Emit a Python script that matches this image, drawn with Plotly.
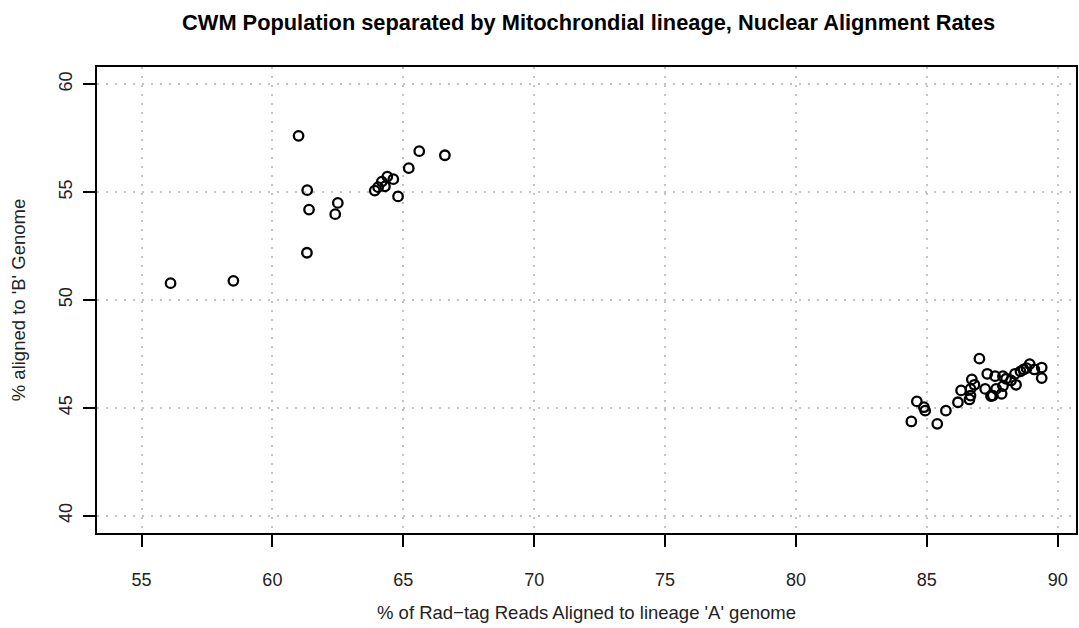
import plotly.graph_objects as go

# Lineage 'A' alignment (%) and lineage 'B' alignment (%) per sample
pct_a = [
    56.11, 58.51,
    61.00, 61.33, 61.40, 61.32, 62.50, 62.40, 63.91, 64.04, 64.18, 64.30,
    64.39, 64.62, 64.80, 65.21, 65.61, 66.59,
    87.01, 84.62, 84.89, 84.94, 84.41, 85.40, 85.73, 86.19, 86.31, 86.63,
    86.67, 86.72, 86.82, 86.67, 87.23, 87.31, 87.61, 87.91, 87.52, 87.65,
    87.86, 87.91, 88.22, 88.41, 88.37, 88.58, 88.70, 88.81, 88.93, 89.11,
    89.39, 89.39, 87.45, 88.03,
]
pct_b = [
    50.78, 50.89,
    57.61, 55.09, 54.19, 52.19, 54.50, 53.98, 55.07, 55.23, 55.49, 55.27,
    55.72, 55.60, 54.80, 56.11, 56.90, 56.71,
    47.28, 45.30, 45.03, 44.87, 44.37, 44.26, 44.87, 45.26, 45.81, 45.39,
    45.57, 46.32, 46.07, 45.88, 45.88, 46.58, 46.47, 46.47, 45.57, 45.88,
    45.65, 46.01, 46.27, 46.07, 46.58, 46.69, 46.78, 46.84, 47.03, 46.78,
    46.87, 46.38, 45.55, 46.35,
]

x_ticks = [55, 60, 65, 70, 75, 80, 85, 90]
y_ticks = [40, 45, 50, 55, 60]

FONT = "Liberation Sans, Arial, Helvetica, sans-serif"

fig = go.Figure(
    go.Scatter(
        x=pct_a,
        y=pct_b,
        mode="markers",
        marker=dict(
            symbol="circle-open",
            size=9.5,
            color="black",
            line=dict(width=2.3, color="black"),
        ),
        showlegend=False,
    )
)

axis_common = dict(
    showline=True,
    mirror=True,
    linecolor="black",
    linewidth=2,
    ticks="outside",
    ticklen=12,
    tickwidth=2,
    tickcolor="black",
    showgrid=True,
    gridcolor="#c4c4c4",
    griddash="2px,7px",
    gridwidth=2,
    zeroline=False,
    tickfont=dict(family=FONT, size=18, color="#222"),
)

fig.update_layout(
    width=1079,
    height=628,
    margin=dict(l=97, r=1, t=67, b=95),
    paper_bgcolor="white",
    plot_bgcolor="white",
    title=dict(
        text="<b>CWM Population separated by Mitochrondial lineage, Nuclear Alignment Rates</b>",
        x=0.5455,
        xanchor="center",
        y=0.965,
        yanchor="middle",
        font=dict(family=FONT, size=21.8, color="black"),
    ),
    xaxis=dict(
        **axis_common,
        range=[53.3, 90.7],
        tickvals=x_ticks,
        ticktext=[str(v) for v in x_ticks],
        ticklabelstandoff=17,
        title=dict(
            text="% of Rad\u2212tag Reads Aligned to lineage 'A' genome",
            font=dict(family=FONT, size=18.5, color="#222"),
            standoff=17,
        ),
    ),
    yaxis=dict(
        **axis_common,
        range=[39.2, 60.8],
        tickvals=y_ticks,
        ticktext=[str(v) for v in y_ticks],
        tickangle=-90,
        ticklabelstandoff=4,
        title=dict(
            text="% aligned to 'B' Genome",
            font=dict(family=FONT, size=18.5, color="#222"),
            standoff=25,
        ),
    ),
)

fig.write_html("out.html")
